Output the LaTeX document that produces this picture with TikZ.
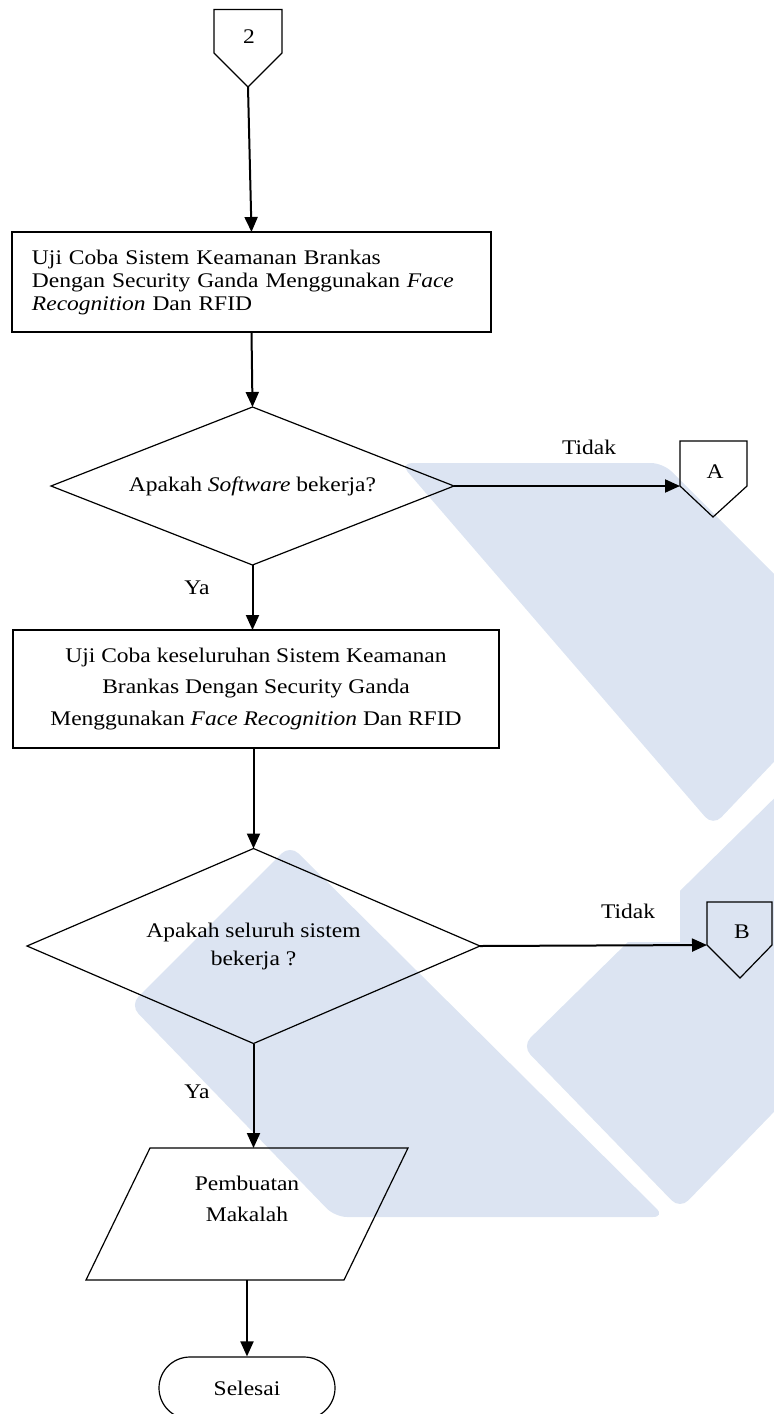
\documentclass[tikz,border=0pt]{standalone}
\usepackage{fontspec}
\setmainfont{Liberation Serif}[FakeStretch=1.13]
\usetikzlibrary{shapes.geometric,shapes.misc,arrows.meta}
\definecolor{wmblue}{RGB}{220,228,242}

\begin{document}
\begin{tikzpicture}[x=0.5pt,y=-0.5pt,
        font=\fontsize{10.4pt}{11.5pt}\selectfont,
        prosesbox/.style={draw,line width=0.9pt,inner sep=0pt,outer sep=0pt},
        keputusan/.style={draw,diamond,line width=0.6pt,inner sep=0pt,outer sep=0pt,align=center},
        konektor/.style={draw,line width=0.6pt},
        alur/.style={-{Triangle[length=7.5pt,width=6.5pt]},line width=1pt}]

        \useasboundingbox (0,0) rectangle (773,1414);

        % watermark di latar belakang
        \fill[wmblue,rounded corners=6pt] (400,463) -- (663,463) -- (790,590) -- (790,745) -- (713,826) -- cycle;
        \fill[wmblue,rounded corners=6pt] (522,1046) -- (800,773) -- (800,1085) -- (680,1209) -- cycle;
        \fill[wmblue,rounded corners=6pt] (290,845) -- (665,1217) -- (335,1217) -- (130,1005) -- cycle;

        % konektor 2
        \draw[konektor] (214,9.5) -- (282,9.5) -- (282,53) -- (248,87) -- (214,53) -- cycle;
        \node (lbl2) at (249,37) {2};
        \coordinate (c2out) at (248,87);

        \node[prosesbox,minimum width=239.5pt,minimum height=50pt,text width=219.5pt,align=left] (uji1) at (251.5,282)
            {Uji Coba Sistem Keamanan Brankas\\Dengan Security Ganda Menggunakan \textit{Face}\\\textit{Recognition} Dan RFID};

        \node[keputusan,aspect=2.55,minimum width=201.5pt,minimum height=79pt] (cek1) at (252.5,486)
            {Apakah \textit{Software} bekerja?};

        % konektor A
        \draw[konektor] (680,441) -- (747,441) -- (747,486) -- (713,517) -- (680,486) -- cycle;
        \node (lblA) at (715,472) {A};
        \coordinate (ainp) at (680,486);

        \node (tidak1) at (589,447) {Tidak};
        \node (ya1) at (197,588) {Ya};

        \node[prosesbox,minimum width=243pt,minimum height=59pt,align=center,font=\fontsize{10.4pt}{15.75pt}\selectfont] (uji2) at (256,689)
            {Uji Coba keseluruhan Sistem Keamanan\\Brankas Dengan Security Ganda\\Menggunakan \textit{Face Recognition} Dan RFID};

        \node[keputusan,aspect=2.32,minimum width=226.5pt,minimum height=97.5pt,font=\fontsize{10.4pt}{14pt}\selectfont] (cek2) at (253.5,946)
            {Apakah seluruh sistem\\bekerja ?};

        % konektor B
        \node[fill=white,minimum width=52pt,minimum height=31pt] (tidak2) at (628,911) {Tidak};
        \draw[konektor] (707,902) -- (772,902) -- (772,945) -- (740,978) -- (707,945) -- cycle;
        \node (lblB) at (742,932) {B};
        \coordinate (binp) at (707,945);

        \node (ya2) at (197,1092) {Ya};

        % jajaran genjang
        \draw[line width=0.6pt] (150,1148) -- (408,1148) -- (344,1280) -- (86,1280) -- cycle;
        \node[minimum width=161pt,minimum height=66pt,inner sep=0pt,outer sep=0pt,
            align=center,font=\fontsize{10.4pt}{15.5pt}\selectfont] (makalah) at (247,1214)
            {Pembuatan\\Makalah\\\mbox{}};

        \node[draw,rounded rectangle,line width=0.6pt,minimum width=88pt,minimum height=31pt,inner sep=0pt] (selesai) at (247,1388) {Selesai};

        \draw[alur] (c2out) -- (uji1.north);
        \draw[alur] (uji1.south) -- (cek1.north);
        \draw[alur] (cek1.east) -- (ainp);
        \draw[alur] (cek1.south) -- (cek1.south |- uji2.north);
        \draw[alur] (uji2.south -| cek2.north) -- (cek2.north);
        \draw[alur] (cek2.east) -- (binp);
        \draw[alur] (cek2.south) -- (cek2.south |- makalah.north);
        \draw[alur] (makalah.south) -- (selesai.north);

    \end{tikzpicture}
\end{document}
